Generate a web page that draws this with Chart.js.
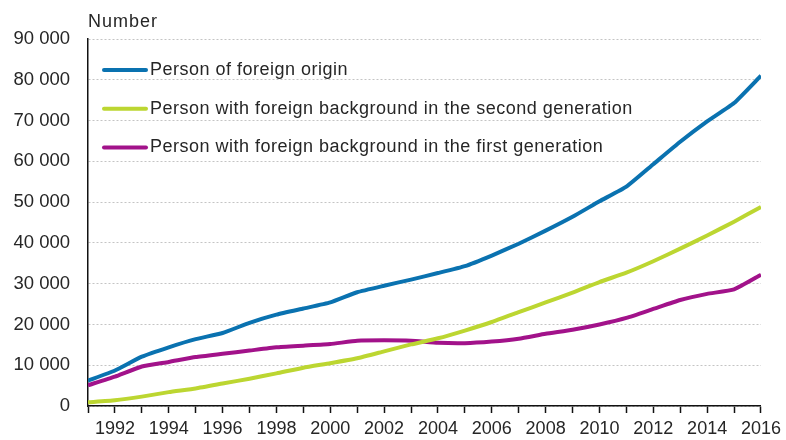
<!DOCTYPE html>
<html>
<head>
<meta charset="utf-8">
<script src="https://cdn.jsdelivr.net/npm/chart.js@4/dist/chart.umd.min.js"></script>
<style>
  html, body { margin: 0; padding: 0; background: #fff; }
  #wrap { width: 786px; height: 440px; }
</style>
</head>
<body>
<div id="wrap"><canvas id="populationChart" width="786" height="440"></canvas></div>
<script>
const years = [1991, 1992, 1993, 1994, 1995, 1996, 1997, 1998, 1999, 2000, 2001, 2002, 2003,
               2004, 2005, 2006, 2007, 2008, 2009, 2010, 2011, 2012, 2013, 2014, 2015, 2016];
const foreignOrigin = [6200, 8700, 12100, 14400, 16400, 17900, 20400, 22400, 23900, 25400, 27900, 29500, 31000,
                       32600, 34300, 36900, 39800, 43000, 46400, 50200, 53800, 59300, 64800, 69800, 74300, 81000];
const secondGeneration = [900, 1400, 2300, 3400, 4300, 5500, 6700, 8000, 9400, 10500, 11700, 13400, 15100,
                          16600, 18500, 20600, 23000, 25400, 27800, 30400, 32700, 35500, 38600, 41800, 45200, 48800];
const firstGeneration = [5100, 7200, 9700, 10800, 12000, 12800, 13600, 14400, 14800, 15200, 16000, 16100, 16000,
                         15500, 15400, 15800, 16500, 17700, 18700, 20000, 21600, 23800, 26000, 27500, 28600, 32200];
const seriesLabels = [
    'Person of foreign origin',
    'Person with foreign background in the second generation',
    'Person with foreign background in the first generation'
];
const seriesColors = ['#0a72b0', '#bcd631', '#a2128a'];
const yAxisTitle = 'Number';

const fontFamily = "'Liberation Sans', Arial, sans-serif";
Chart.defaults.font.family = fontFamily;
Chart.defaults.font.size = 18;
Chart.defaults.color = '#262626';

function formatThousands(v) {
    return String(v).replace(/\B(?=(\d{3})+(?!\d))/g, ' ');
}

function toPoints(values) {
    return values.map((v, i) => ({ x: years[i], y: v }));
}

// legend sits inside the plot, one entry per row, plus the "Number" caption
const insideLegend = {
    id: 'insideLegend',
    afterDraw(chart) {
        const ctx = chart.ctx;
        ctx.save();
        ctx.font = '18px ' + fontFamily;
        ctx.fillStyle = '#262626';
        ctx.textBaseline = 'middle';
        ctx.textAlign = 'left';
        ctx.letterSpacing = '1px';
        ctx.fillText(yAxisTitle, 88, 22);
        ctx.letterSpacing = '0.5px';
        chart.data.datasets.forEach((ds, i) => {
            const y = 70 + i * 38.7;
            ctx.strokeStyle = ds.borderColor;
            ctx.lineWidth = 4;
            ctx.lineCap = 'round';
            ctx.beginPath();
            ctx.moveTo(104, y);
            ctx.lineTo(146, y);
            ctx.stroke();
            ctx.fillText(ds.label, 150, y);
        });
        ctx.restore();
    }
};

const ctx = document.getElementById('populationChart').getContext('2d');
const chart = new Chart(ctx, {
    type: 'line',
    data: {
        datasets: [
            { label: seriesLabels[0], data: toPoints(foreignOrigin), borderColor: seriesColors[0] },
            { label: seriesLabels[1], data: toPoints(secondGeneration), borderColor: seriesColors[1] },
            { label: seriesLabels[2], data: toPoints(firstGeneration), borderColor: seriesColors[2] }
        ]
    },
    options: {
        responsive: false,
        animation: false,
        layout: { padding: { left: 0, right: 24, top: 39, bottom: 0 } },
        elements: {
            line: { borderWidth: 4, tension: 0.15, borderCapStyle: 'butt', borderJoinStyle: 'round' },
            point: { radius: 0 }
        },
        plugins: {
            legend: { display: false },
            tooltip: { enabled: false }
        },
        scales: {
            x: {
                type: 'linear',
                min: 1991,
                max: 2016,
                afterFit(scale) { scale.height = 34; },
                afterBuildTicks(scale) {
                    scale.ticks = years.map(y => ({ value: y }));
                },
                ticks: {
                    autoSkip: false,
                    maxRotation: 0,
                    padding: 5,
                    callback: v => (v % 2 === 0 ? String(v) : '')
                },
                grid: {
                    drawOnChartArea: false,
                    drawTicks: true,
                    tickLength: 7,
                    tickColor: '#111',
                    tickWidth: 1.5
                },
                border: { color: '#111', width: 1.5 }
            },
            y: {
                min: 0,
                max: 90000,
                afterFit(scale) { scale.width = 88; },
                ticks: {
                    stepSize: 10000,
                    padding: 18,
                    font: { size: 18.5 },
                    callback: v => formatThousands(v)
                },
                grid: {
                    drawTicks: false,
                    color: '#c4c4c4',
                    lineWidth: 1
                },
                border: { color: '#111', width: 1.5, dash: [2, 2] }
            }
        }
    },
    plugins: [insideLegend]
});
</script>
</body>
</html>
